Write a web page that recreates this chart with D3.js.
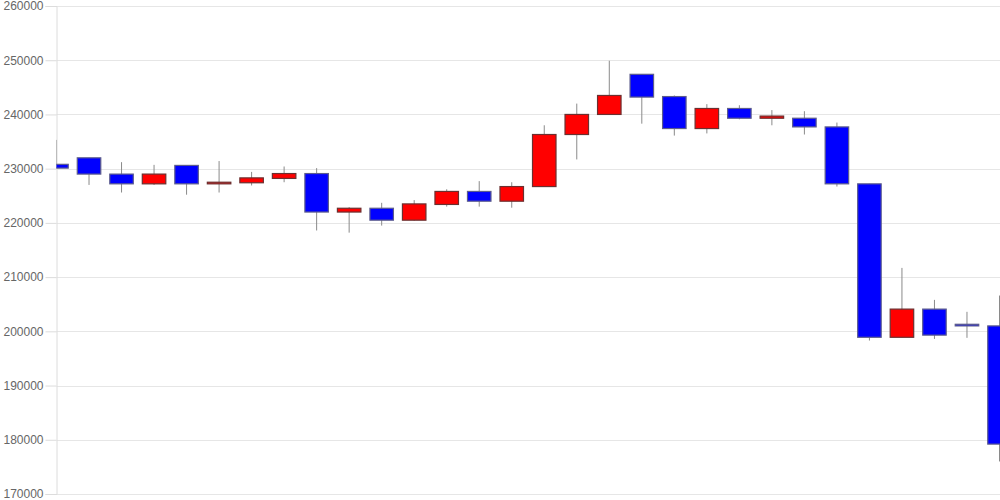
<!DOCTYPE html>
<html>
<head>
<meta charset="utf-8">
<script src="https://cdn.jsdelivr.net/npm/d3@7"></script>
<style>
  body { margin: 0; background: #fff; }
  svg { display: block; }
</style>
</head>
<body>
<svg width="1000" height="500"></svg>
<script>
// ohlc, one entry per session
const days = d3.range(30);
const open  = [230800, 232000, 229000, 227200, 230600, 227200, 227400, 228200, 229100, 222000,
               222700, 220500, 223400, 225800, 224000, 226700, 236300, 240000, 247400, 243300,
               237400, 241100, 239300, 239300, 237700, 227200, 198900, 204100, 201300, 201000];
const high  = [235300, 232000, 231200, 230700, 230600, 231400, 229400, 230400, 230100, 222900,
               223700, 224200, 226200, 227700, 227500, 238000, 242000, 249900, 247400, 243500,
               241900, 241700, 240800, 240600, 238500, 227200, 211700, 205800, 203600, 206600];
const low   = [230000, 227000, 225600, 227000, 225200, 225600, 226900, 227500, 218600, 218200,
               219500, 220400, 223000, 223000, 222800, 226700, 231700, 240000, 238300, 236100,
               236500, 239100, 238000, 236300, 226700, 198300, 198900, 198600, 198800, 176000];
const close = [230100, 229000, 227200, 229000, 227200, 227500, 228300, 229100, 222000, 222700,
               220500, 223500, 225800, 224000, 226700, 236300, 240000, 243500, 243200, 237400,
               241100, 239300, 239700, 237700, 227200, 198900, 204100, 199300, 201000, 179200];
const yTicks = [170000, 180000, 190000, 200000, 210000, 220000, 230000, 240000, 250000, 260000];

const svg = d3.select('svg');
const width = +svg.attr('width');
const height = +svg.attr('height');

const margin = { top: 6, right: 0.5, bottom: 6, left: 56.5 };

const x = d3.scaleLinear()
    .domain([0, days.length - 1])
    .range([margin.left, width - margin.right]);

const y = d3.scaleLinear()
    .domain([170000, 260000])
    .range([height - margin.bottom, margin.top]);

const bodyW = 23.5;

// grid
svg.append('g')
    .selectAll('line').data(yTicks).enter()
    .append('line')
    .attr('x1', margin.left).attr('x2', width)
    .attr('y1', d => Math.round(y(d)) + 0.5)
    .attr('y2', d => Math.round(y(d)) + 0.5)
    .attr('stroke', '#e6e6e6');

// y axis
const axisG = svg.append('g')
    .attr('transform', `translate(${margin.left},0)`)
    .call(d3.axisLeft(y).tickValues(yTicks).tickSize(11).tickPadding(2).tickFormat(d3.format('d')));
axisG.select('.domain').attr('stroke', '#dcdcdc');
axisG.selectAll('.tick line').attr('stroke', '#dcdcdc');
axisG.selectAll('.tick text')
    .attr('fill', '#666')
    .attr('font-family', 'Liberation Sans, Arial, sans-serif')
    .attr('font-size', 12);

svg.append('clipPath').attr('id', 'plot')
    .append('rect')
    .attr('x', margin.left).attr('y', 0)
    .attr('width', width - margin.left).attr('height', height);

const plot = svg.append('g').attr('clip-path', 'url(#plot)');

const candles = plot.selectAll('.candle').data(days).enter()
    .append('g').attr('class', 'candle');

// wicks
candles.append('line')
    .attr('x1', i => x(i))
    .attr('x2', i => x(i))
    .attr('y1', i => y(high[i]))
    .attr('y2', i => y(low[i]))
    .attr('stroke', '#8a8a8a')
    .attr('stroke-width', 1);

// bodies
candles.append('rect')
    .attr('x', i => x(i) - bodyW / 2)
    .attr('y', i => y(Math.max(open[i], close[i])))
    .attr('width', bodyW)
    .attr('height', i => Math.max(1, Math.abs(y(open[i]) - y(close[i]))))
    .attr('fill', i => close[i] > open[i] ? '#ff0000' : '#0000ff')
    .attr('stroke', i => close[i] > open[i] ? '#6b3030' : '#5c5c8c')
    .attr('stroke-width', 1.2);
</script>
</body>
</html>
